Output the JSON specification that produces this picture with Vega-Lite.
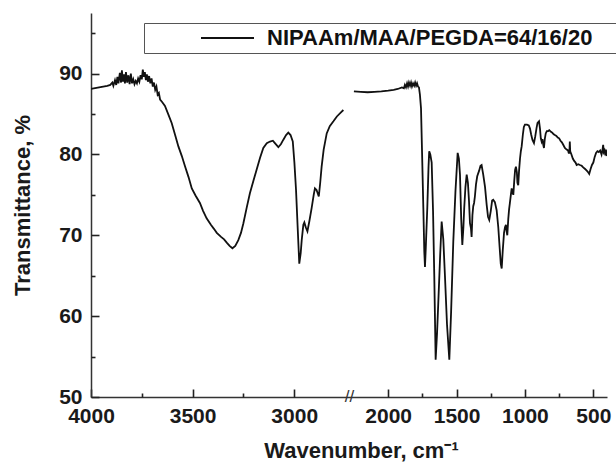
{
  "$schema": "https://vega.github.io/schema/vega-lite/v6.json",
  "width": 516,
  "height": 384,
  "autosize": {"type": "none"},
  "padding": {"left": 91, "top": 13, "right": 9, "bottom": 70},
  "background": "white",
  "config": {"view": {"stroke": null}, "font": "Liberation Sans"},
  "datasets": {
    "spectrum": [
      {"w":4000,"t":88.1,"s":1},{"w":3980,"t":88.2,"s":1},{"w":3960,"t":88.3,"s":1},{"w":3940,"t":88.4,"s":1},{"w":3920,"t":88.5,"s":1},{"w":3905,"t":88.6,"s":1},{"w":3895,"t":88.9,"s":1},{"w":3890,"t":88.5,"s":1},{"w":3882,"t":89.2,"s":1},{"w":3876,"t":88.6,"s":1},{"w":3870,"t":89.6,"s":1},{"w":3865,"t":88.8,"s":1},{"w":3858,"t":90.1,"s":1},{"w":3852,"t":88.9,"s":1},{"w":3848,"t":90.4,"s":1},{"w":3843,"t":89.0,"s":1},{"w":3838,"t":89.9,"s":1},{"w":3833,"t":88.8,"s":1},{"w":3828,"t":90.2,"s":1},{"w":3822,"t":88.9,"s":1},{"w":3816,"t":89.8,"s":1},{"w":3810,"t":88.7,"s":1},{"w":3804,"t":90.0,"s":1},{"w":3798,"t":88.8,"s":1},{"w":3792,"t":89.3,"s":1},{"w":3786,"t":88.7,"s":1},{"w":3780,"t":89.1,"s":1},{"w":3774,"t":88.8,"s":1},{"w":3768,"t":89.4,"s":1},{"w":3762,"t":89.0,"s":1},{"w":3756,"t":89.8,"s":1},{"w":3750,"t":89.3,"s":1},{"w":3745,"t":90.5,"s":1},{"w":3740,"t":89.6,"s":1},{"w":3735,"t":90.2,"s":1},{"w":3730,"t":89.2,"s":1},{"w":3725,"t":89.9,"s":1},{"w":3720,"t":89.0,"s":1},{"w":3714,"t":89.7,"s":1},{"w":3708,"t":88.8,"s":1},{"w":3702,"t":89.4,"s":1},{"w":3696,"t":88.4,"s":1},{"w":3690,"t":88.9,"s":1},{"w":3684,"t":88.0,"s":1},{"w":3678,"t":88.4,"s":1},{"w":3672,"t":87.4,"s":1},{"w":3666,"t":87.6,"s":1},{"w":3660,"t":86.8,"s":1},{"w":3650,"t":86.5,"s":1},{"w":3636,"t":86.0,"s":1},{"w":3620,"t":85.0,"s":1},{"w":3603,"t":83.9,"s":1},{"w":3586,"t":82.4,"s":1},{"w":3570,"t":81.0,"s":1},{"w":3553,"t":79.8,"s":1},{"w":3537,"t":78.5,"s":1},{"w":3520,"t":77.2,"s":1},{"w":3504,"t":75.8,"s":1},{"w":3485,"t":74.9,"s":1},{"w":3464,"t":74.0,"s":1},{"w":3448,"t":73.0,"s":1},{"w":3431,"t":72.1,"s":1},{"w":3410,"t":71.3,"s":1},{"w":3395,"t":70.8,"s":1},{"w":3381,"t":70.3,"s":1},{"w":3360,"t":69.8,"s":1},{"w":3345,"t":69.5,"s":1},{"w":3332,"t":69.1,"s":1},{"w":3318,"t":68.7,"s":1},{"w":3304,"t":68.4,"s":1},{"w":3290,"t":68.7,"s":1},{"w":3275,"t":69.4,"s":1},{"w":3262,"t":70.3,"s":1},{"w":3250,"t":71.5,"s":1},{"w":3234,"t":73.4,"s":1},{"w":3218,"t":75.2,"s":1},{"w":3200,"t":76.8,"s":1},{"w":3185,"t":78.1,"s":1},{"w":3168,"t":79.6,"s":1},{"w":3152,"t":80.8,"s":1},{"w":3135,"t":81.4,"s":1},{"w":3119,"t":81.6,"s":1},{"w":3105,"t":81.7,"s":1},{"w":3095,"t":81.4,"s":1},{"w":3078,"t":80.9,"s":1},{"w":3065,"t":81.3,"s":1},{"w":3054,"t":81.8,"s":1},{"w":3040,"t":82.4,"s":1},{"w":3029,"t":82.7,"s":1},{"w":3018,"t":82.4,"s":1},{"w":3007,"t":81.6,"s":1},{"w":2999,"t":79.0,"s":1},{"w":2991,"t":75.6,"s":1},{"w":2983,"t":71.0,"s":1},{"w":2975,"t":66.5,"s":1},{"w":2968,"t":67.8,"s":1},{"w":2963,"t":69.4,"s":1},{"w":2955,"t":71.3,"s":1},{"w":2950,"t":71.6,"s":1},{"w":2943,"t":71.0,"s":1},{"w":2935,"t":70.5,"s":1},{"w":2925,"t":71.8,"s":1},{"w":2914,"t":73.4,"s":1},{"w":2904,"t":75.0,"s":1},{"w":2898,"t":75.8,"s":1},{"w":2890,"t":75.6,"s":1},{"w":2879,"t":74.8,"s":1},{"w":2872,"t":76.5,"s":1},{"w":2865,"t":78.5,"s":1},{"w":2855,"t":80.6,"s":1},{"w":2840,"t":82.6,"s":1},{"w":2825,"t":83.5,"s":1},{"w":2807,"t":84.1,"s":1},{"w":2790,"t":84.7,"s":1},{"w":2770,"t":85.2,"s":1},{"w":2758,"t":85.5,"s":1},
      {"w":2255,"t":87.8,"s":2},{"w":2200,"t":87.75,"s":2},{"w":2150,"t":87.7,"s":2},{"w":2100,"t":87.75,"s":2},{"w":2050,"t":87.8,"s":2},{"w":2000,"t":87.9,"s":2},{"w":1960,"t":88.0,"s":2},{"w":1930,"t":88.1,"s":2},{"w":1900,"t":88.3,"s":2},{"w":1885,"t":88.2,"s":2},{"w":1878,"t":88.6,"s":2},{"w":1870,"t":88.3,"s":2},{"w":1862,"t":88.8,"s":2},{"w":1855,"t":88.4,"s":2},{"w":1848,"t":88.9,"s":2},{"w":1840,"t":88.5,"s":2},{"w":1833,"t":88.9,"s":2},{"w":1826,"t":88.4,"s":2},{"w":1818,"t":88.8,"s":2},{"w":1810,"t":88.5,"s":2},{"w":1803,"t":88.9,"s":2},{"w":1796,"t":88.5,"s":2},{"w":1789,"t":88.8,"s":2},{"w":1782,"t":88.4,"s":2},{"w":1775,"t":88.3,"s":2},{"w":1768,"t":87.4,"s":2},{"w":1760,"t":85.7,"s":2},{"w":1752,"t":80.0,"s":2},{"w":1743,"t":73.4,"s":2},{"w":1736,"t":68.0,"s":2},{"w":1731,"t":66.1,"s":2},{"w":1725,"t":68.5,"s":2},{"w":1714,"t":73.4,"s":2},{"w":1705,"t":78.5,"s":2},{"w":1700,"t":80.4,"s":2},{"w":1692,"t":80.0,"s":2},{"w":1682,"t":79.0,"s":2},{"w":1672,"t":73.0,"s":2},{"w":1663,"t":65.0,"s":2},{"w":1653,"t":54.6,"s":2},{"w":1643,"t":57.8,"s":2},{"w":1634,"t":61.5,"s":2},{"w":1620,"t":67.5,"s":2},{"w":1609,"t":71.7,"s":2},{"w":1597,"t":69.5,"s":2},{"w":1585,"t":65.0,"s":2},{"w":1570,"t":59.0,"s":2},{"w":1553,"t":54.6,"s":2},{"w":1540,"t":60.5,"s":2},{"w":1524,"t":69.2,"s":2},{"w":1508,"t":75.5,"s":2},{"w":1492,"t":80.2,"s":2},{"w":1483,"t":79.5,"s":2},{"w":1475,"t":77.5,"s":2},{"w":1466,"t":72.0,"s":2},{"w":1458,"t":68.8,"s":2},{"w":1450,"t":71.0,"s":2},{"w":1444,"t":73.4,"s":2},{"w":1435,"t":76.0,"s":2},{"w":1426,"t":77.5,"s":2},{"w":1417,"t":76.5,"s":2},{"w":1409,"t":74.2,"s":2},{"w":1402,"t":71.5,"s":2},{"w":1395,"t":70.9,"s":2},{"w":1390,"t":69.8,"s":2},{"w":1384,"t":72.5,"s":2},{"w":1378,"t":73.6,"s":2},{"w":1372,"t":74.0,"s":2},{"w":1366,"t":74.8,"s":2},{"w":1358,"t":76.3,"s":2},{"w":1349,"t":77.3,"s":2},{"w":1335,"t":78.0,"s":2},{"w":1325,"t":78.6,"s":2},{"w":1317,"t":78.7,"s":2},{"w":1305,"t":77.5,"s":2},{"w":1292,"t":76.0,"s":2},{"w":1280,"t":73.8,"s":2},{"w":1270,"t":72.3,"s":2},{"w":1261,"t":71.9,"s":2},{"w":1250,"t":73.0,"s":2},{"w":1240,"t":74.3,"s":2},{"w":1232,"t":74.4,"s":2},{"w":1220,"t":74.1,"s":2},{"w":1207,"t":73.1,"s":2},{"w":1195,"t":71.0,"s":2},{"w":1185,"t":68.5,"s":2},{"w":1177,"t":66.5,"s":2},{"w":1170,"t":65.9,"s":2},{"w":1162,"t":68.2,"s":2},{"w":1153,"t":70.3,"s":2},{"w":1146,"t":71.0,"s":2},{"w":1139,"t":71.3,"s":2},{"w":1133,"t":70.4,"s":2},{"w":1129,"t":70.0,"s":2},{"w":1122,"t":72.0,"s":2},{"w":1116,"t":73.2,"s":2},{"w":1110,"t":74.0,"s":2},{"w":1103,"t":75.0,"s":2},{"w":1097,"t":75.8,"s":2},{"w":1091,"t":75.4,"s":2},{"w":1085,"t":75.0,"s":2},{"w":1078,"t":76.8,"s":2},{"w":1072,"t":78.1,"s":2},{"w":1066,"t":78.5,"s":2},{"w":1059,"t":77.8,"s":2},{"w":1055,"t":76.5,"s":2},{"w":1049,"t":76.2,"s":2},{"w":1043,"t":78.0,"s":2},{"w":1036,"t":79.5,"s":2},{"w":1030,"t":80.4,"s":2},{"w":1024,"t":81.0,"s":2},{"w":1015,"t":82.5,"s":2},{"w":1008,"t":83.4,"s":2},{"w":1000,"t":83.7,"s":2},{"w":985,"t":83.7,"s":2},{"w":972,"t":83.6,"s":2},{"w":963,"t":83.2,"s":2},{"w":955,"t":82.5,"s":2},{"w":945,"t":81.8,"s":2},{"w":934,"t":81.4,"s":2},{"w":925,"t":82.2,"s":2},{"w":915,"t":83.3,"s":2},{"w":908,"t":83.9,"s":2},{"w":897,"t":84.1,"s":2},{"w":890,"t":83.2,"s":2},{"w":884,"t":82.0,"s":2},{"w":878,"t":81.6,"s":2},{"w":872,"t":81.9,"s":2},{"w":866,"t":81.2,"s":2},{"w":861,"t":80.8,"s":2},{"w":855,"t":81.9,"s":2},{"w":848,"t":82.6,"s":2},{"w":840,"t":82.9,"s":2},{"w":830,"t":82.9,"s":2},{"w":822,"t":83.0,"s":2},{"w":810,"t":82.8,"s":2},{"w":800,"t":82.7,"s":2},{"w":790,"t":82.5,"s":2},{"w":781,"t":82.4,"s":2},{"w":770,"t":82.3,"s":2},{"w":760,"t":82.1,"s":2},{"w":750,"t":82.0,"s":2},{"w":740,"t":81.7,"s":2},{"w":730,"t":81.5,"s":2},{"w":720,"t":81.2,"s":2},{"w":708,"t":80.8,"s":2},{"w":695,"t":80.6,"s":2},{"w":685,"t":80.5,"s":2},{"w":680,"t":80.2,"s":2},{"w":675,"t":80.2,"s":2},{"w":672,"t":81.6,"s":2},{"w":669,"t":80.4,"s":2},{"w":660,"t":80.0,"s":2},{"w":650,"t":79.5,"s":2},{"w":640,"t":79.2,"s":2},{"w":630,"t":79.0,"s":2},{"w":622,"t":78.7,"s":2},{"w":610,"t":78.8,"s":2},{"w":598,"t":78.7,"s":2},{"w":585,"t":78.6,"s":2},{"w":574,"t":78.4,"s":2},{"w":560,"t":78.2,"s":2},{"w":548,"t":78.0,"s":2},{"w":538,"t":77.8,"s":2},{"w":530,"t":77.6,"s":2},{"w":520,"t":78.2,"s":2},{"w":510,"t":78.7,"s":2},{"w":500,"t":79.0,"s":2},{"w":490,"t":79.7,"s":2},{"w":480,"t":80.2,"s":2},{"w":470,"t":80.4,"s":2},{"w":460,"t":80.3,"s":2},{"w":450,"t":80.5,"s":2},{"w":440,"t":80.0,"s":2},{"w":432,"t":80.7,"s":2},{"w":428,"t":81.2,"s":2},{"w":424,"t":80.3,"s":2},{"w":418,"t":80.5,"s":2},{"w":412,"t":79.9,"s":2},{"w":408,"t":80.6,"s":2},{"w":402,"t":79.8,"s":2}
    ],
    "breakmark": [{"w": 2500, "t": 50, "m": "//"}]
  },
  "resolve": {"axis": {"x": "independent", "y": "independent"}},
  "layer": [
    {
      "data": {"name": "spectrum"},
      "mark": {"type": "line", "strokeWidth": 1.8, "clip": true},
      "encoding": {
        "x": {
          "field": "w", "type": "quantitative",
          "scale": {"domain": [4000, 2750, 2250, 400], "range": [0, 254, 263, 516], "nice": false, "zero": false},
          "axis": {
            "orient": "bottom",
            "values": [4000, 3500, 3000, 2000, 1500, 1000, 500],
            "format": "d",
            "grid": false,
            "ticks": false, "tickSize": 0,
            "domainColor": "#333", "domainWidth": 1.5,
            "labelFont": "Liberation Sans", "labelFontWeight": "bold", "labelFontSize": 21, "labelColor": "#1a1a1a",
            "labelPadding": 8, "labelFlush": false, "labelOverlap": false,
            "title": "Wavenumber, cm⁻¹",
            "titleFont": "Liberation Sans", "titleFontWeight": "bold", "titleFontSize": 22, "titleColor": "#1a1a1a",
            "titlePadding": 14, "titleX": 270
          }
        },
        "y": {
          "field": "t", "type": "quantitative",
          "scale": {"domain": [50, 97.5], "nice": false, "zero": false},
          "axis": {
            "orient": "left",
            "values": [50, 60, 70, 80, 90],
            "grid": false,
            "ticks": false, "tickSize": 0,
            "domainColor": "#333", "domainWidth": 1.5,
            "labelFont": "Liberation Sans", "labelFontWeight": "bold", "labelFontSize": 21, "labelColor": "#1a1a1a",
            "labelPadding": 9, "labelOverlap": false,
            "title": "Transmittance, %",
            "titleFont": "Liberation Sans", "titleFontWeight": "bold", "titleFontSize": 22, "titleColor": "#1a1a1a",
            "titlePadding": 24
          }
        },
        "color": {
          "datum": "NIPAAm/MAA/PEGDA=64/16/20",
          "scale": {"range": ["#111111"]},
          "legend": {
            "orient": "none", "legendX": 53, "legendY": 10, "title": null,
            "symbolType": "M-5.3,0L5.3,0", "symbolSize": 100, "symbolStrokeWidth": 1.8, "symbolOffset": 68.5,
            "labelFont": "Liberation Sans", "labelFontWeight": "bold", "labelFontSize": 22, "labelColor": "#111",
            "labelLimit": 0, "labelOffset": 28.5,
            "labelExpr": "datum.label + '\u2003\u2003\u2003\u200b'",
            "strokeColor": "#555", "padding": 4
          }
        },
        "detail": {"field": "s", "type": "nominal"}
      }
    },
    {
      "data": {"name": "breakmark"},
      "mark": {"type": "text", "fontSize": 17, "color": "#333", "baseline": "middle", "align": "center"},
      "encoding": {
        "x": {
          "field": "w", "type": "quantitative",
          "axis": {
            "orient": "bottom", "offset": -8,
            "values": [4000, 3500, 3000, 2000, 1500, 1000, 500],
            "grid": false, "labels": false, "domain": false, "title": null,
            "ticks": true, "tickSize": 8, "tickWidth": 1.6, "tickColor": "#222"
          }
        },
        "y": {
          "field": "t", "type": "quantitative",
          "axis": {
            "orient": "left", "offset": -8,
            "values": [50, 60, 70, 80, 90],
            "grid": false, "labels": false, "domain": false, "title": null,
            "ticks": true, "tickSize": 8, "tickWidth": 1.6, "tickColor": "#222"
          }
        },
        "text": {"field": "m"}
      }
    },
    {
      "data": {"name": "breakmark"},
      "mark": {"type": "text", "opacity": 0},
      "encoding": {
        "x": {
          "field": "w", "type": "quantitative",
          "axis": {
            "orient": "bottom", "offset": -4,
            "values": [3750, 3250, 1750, 1250, 750],
            "grid": false, "labels": false, "domain": false, "title": null,
            "ticks": true, "tickSize": 4, "tickWidth": 1.6, "tickColor": "#222"
          }
        },
        "y": {
          "field": "t", "type": "quantitative",
          "axis": {
            "orient": "left", "offset": -4,
            "values": [55, 65, 75, 85, 95],
            "grid": false, "labels": false, "domain": false, "title": null,
            "ticks": true, "tickSize": 4, "tickWidth": 1.6, "tickColor": "#222"
          }
        },
        "text": {"field": "m"}
      }
    }
  ]
}
